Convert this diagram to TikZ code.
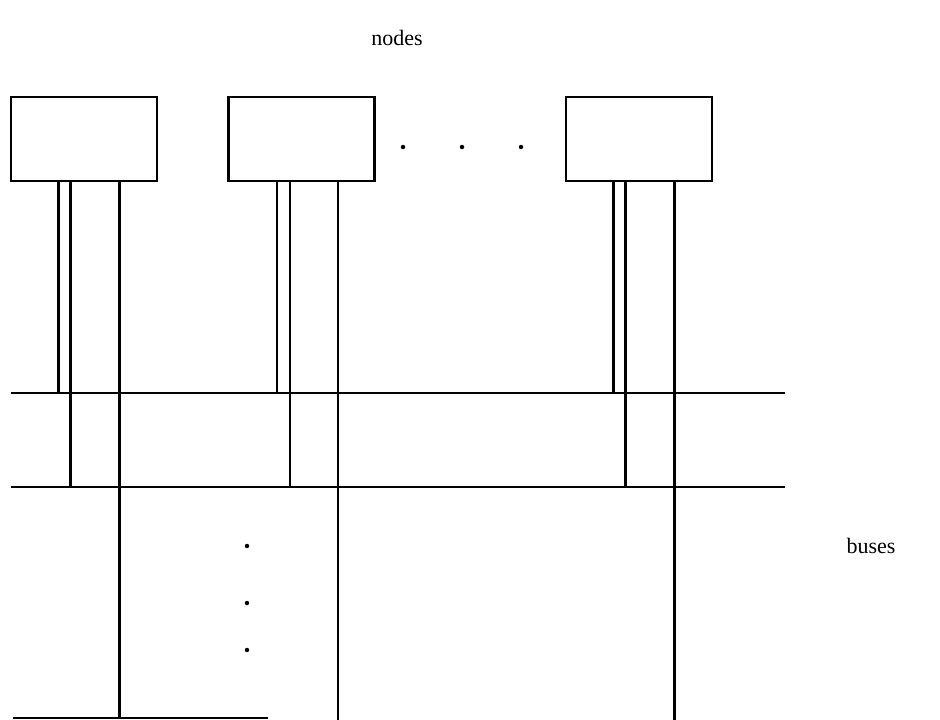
\documentclass[tikz,border=0pt]{standalone}
\usepackage{fontspec}
\setmainfont{Liberation Serif}
\begin{document}
\begin{tikzpicture}[x=1pt,y=-1pt,
  nodebox/.style={draw,line width=2.8pt,minimum width=146pt,minimum height=84pt,inner sep=0pt},
  wire/.style={line width=2.3pt},
  dotmark/.style={circle,fill,inner sep=0pt,minimum size=4.5pt},
  lbl/.style={font=\fontsize{22}{25}\selectfont}]
\useasboundingbox (0,0) rectangle (940,720);
% nodes
\node[nodebox] (n1) at (84,139) {};
\node[nodebox] (n2) at (301.5,139) {};
\node[nodebox] (n3) at (639,139) {};
% bus end points
\coordinate (b1l) at (11,393);
\coordinate (b1r) at (785,393);
\coordinate (b2l) at (11,487);
\coordinate (b2r) at (785,487);
\coordinate (b3l) at (13,718);
\coordinate (b3r) at (268,718);
% buses
\draw[wire] (b1l) -- (b1r);
\draw[wire] (b2l) -- (b2r);
\draw[wire] (b3l) -- (b3r);
% taps of node 1
\draw[wire] (n1.south west) ++(49,0) coordinate (a1) -- (a1 |- b1l);
\draw[wire] (n1.south west) ++(61,0) coordinate (a2) -- (a2 |- b2l);
\draw[wire] (n1.south west) ++(110,0) coordinate (a3) -- (a3 |- b3l);
% taps of node 2
\draw[wire] (n2.south west) ++(50,0) coordinate (c1) -- (c1 |- b1l);
\draw[wire] (n2.south west) ++(63,0) coordinate (c2) -- (c2 |- b2l);
\draw[wire] (n2.south west) ++(111,0) coordinate (c3) -- (c3 |- 0,720);
% taps of node 3
\draw[wire] (n3.south west) ++(49,0) coordinate (d1) -- (d1 |- b1l);
\draw[wire] (n3.south west) ++(61,0) coordinate (d2) -- (d2 |- b2l);
\draw[wire] (n3.south west) ++(110,0) coordinate (d3) -- (d3 |- 0,720);
% ellipses
\node[dotmark] (h1) at (403,147) {};
\node[dotmark] (h2) at (462,147) {};
\node[dotmark] (h3) at (521,147) {};
\node[dotmark] (v1) at (247,546) {};
\node[dotmark] (v2) at (247,603) {};
\node[dotmark] (v3) at (247,650) {};
% labels
\node[lbl] (tn) at (397,38) {nodes};
\node[lbl] (tb) at (871,546) {buses};
\end{tikzpicture}
\end{document}
